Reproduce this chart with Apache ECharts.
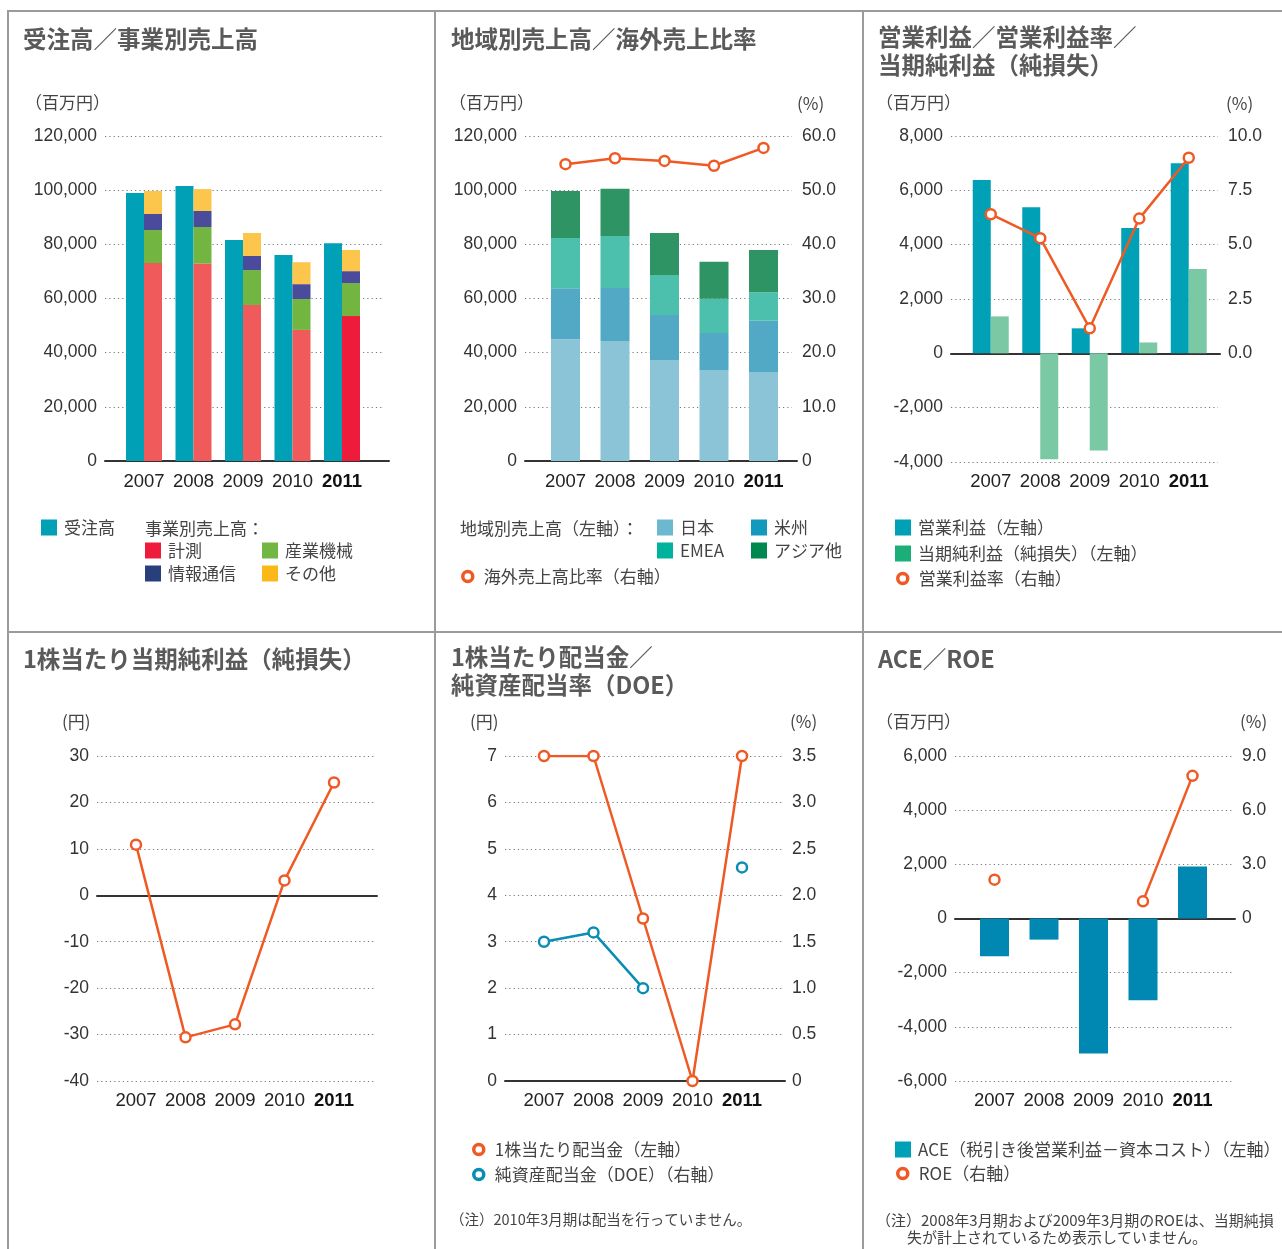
<!DOCTYPE html>
<html><head><meta charset="utf-8">
<script src="https://cdn.jsdelivr.net/npm/echarts@6/dist/echarts.min.js"></script>
<style>
html,body{margin:0;padding:0;background:#fff;}
#wrap{position:relative;width:1282px;height:1249px;overflow:hidden;}
.chart{position:absolute;left:0;top:0;width:1282px;height:1249px;}
.ln{position:absolute;background:#9b9b9b;}
</style></head><body>
<div id="wrap">
<div id="c1" class="chart"></div>
<div id="c2" class="chart"></div>
<div id="c3" class="chart"></div>
<div id="c4" class="chart"></div>
<div id="c5" class="chart"></div>
<div id="c6" class="chart"></div>
<div class="ln" style="left:7px;top:10px;width:1275px;height:2px"></div>
<div class="ln" style="left:7px;top:10px;width:2px;height:1239px"></div>
<div class="ln" style="left:434px;top:10px;width:2px;height:1239px"></div>
<div class="ln" style="left:862px;top:10px;width:2px;height:1239px"></div>
<div class="ln" style="left:7px;top:631px;width:1275px;height:2px"></div>
</div>
<script>
// ---------- data ----------
const years = ['2007', '2008', '2009', '2010', '2011'];
// 受注高／事業別売上高 (百万円)
const orders = [99000, 101500, 81600, 76100, 80400];
const salesMeasure = [73100, 72900, 57600, 48400, 53500];
const salesIndustrial = [12200, 13500, 12900, 11400, 12200];
const salesInfoComm = [5900, 5900, 5200, 5500, 4400];
const salesOther = [8500, 8100, 8500, 8100, 7800];
// 地域別売上高 (百万円) / 海外売上高比率 (%)
const regionJapan = [45000, 44300, 37300, 33600, 32900];
const regionAmericas = [18800, 19600, 16600, 13700, 18900];
const regionEMEA = [18500, 19200, 14800, 12600, 10500];
const regionAsia = [17400, 17400, 15500, 13700, 15600];
const overseasRatio = [54.8, 55.9, 55.4, 54.5, 57.8];
// 営業利益 / 当期純利益 (百万円) / 営業利益率 (%)
const operatingIncome = [6380, 5380, 920, 4610, 7000];
const netIncome = [1360, -3900, -3580, 400, 3100];
const operatingMargin = [6.4, 5.3, 1.15, 6.2, 9.0];
// 1株当たり当期純利益 (円)
const eps = [10.9, -30.6, -27.8, 3.2, 24.3];
// 1株当たり配当金 (円) / DOE (%)
const dividend = [7, 7, 3.5, 0, 7];
const doe = [1.5, 1.6, 1.0, null, 2.3];
// ACE (百万円) / ROE (%)
const ace = [-1390, -780, -4980, -3020, 1920];
const roe = [2.15, null, null, 0.95, 7.9];

// ---------- style ----------
const ORANGE = '#EF5A24';
const NUMF = "'Liberation Sans',Arial,sans-serif";
const JPF = "'Noto Sans CJK JP','Noto Sans',sans-serif";
const commas = v => Math.round(v).toLocaleString('en-US');

function title(text, left, top, size, bold, extra) {
  return Object.assign({
    text: text, left: left, top: top, padding: 0,
    textStyle: { fontSize: size, fontWeight: bold ? 'bold' : 'normal', color: bold ? '#5a5a5a' : '#444', fontFamily: JPF, lineHeight: size * 1.2 }
  }, extra || {});
}
function legRect(name, color, x, cy) {
  return { left: x, top: cy - 10, padding: 0, selectedMode: false, icon: 'rect', itemWidth: 16, itemHeight: 16,
    data: [{ name: name, itemStyle: { color: color } }],
    textStyle: { fontSize: 17, color: '#444', fontFamily: JPF, padding: [0, 0, 0, 2] } };
}
function legCircle(name, color, x, cy) {
  return { left: x, top: cy - 10, padding: 0, selectedMode: false, icon: 'circle', itemWidth: 10, itemHeight: 10,
    data: [{ name: name, itemStyle: { color: '#fff', borderColor: color, borderWidth: 3.5 } }],
    textStyle: { fontSize: 17, color: '#444', fontFamily: JPF, padding: [0, 0, 0, 6] } };
}
function lineSeries(name, data, color, yIdx) {
  return { name: name, type: 'line', xAxisIndex: 1, yAxisIndex: yIdx, data: data, z: 5,
    symbol: 'circle', symbolSize: 10, showSymbol: true, connectNulls: false,
    lineStyle: { color: color, width: 2.5 },
    itemStyle: { color: '#fff', borderColor: color, borderWidth: 2.5 } };
}
function barSeries(name, data, color, yIdx, width, stack) {
  const s = { name: name, type: 'bar', xAxisIndex: 1, yAxisIndex: yIdx, data: data, barWidth: width, barGap: '0%',
    itemStyle: { color: color } };
  if (stack) s.stack = stack;
  return s;
}

function build(id, c) {
  const h = c.y1 - c.y0;
  const grid = [
    { left: c.x0, top: c.y0, width: c.x1 - c.x0, height: h, containLabel: false, outerBoundsMode: 'none' },
    { left: c.dataLeft, top: c.y0, width: 247.5, height: h, containLabel: false, outerBoundsMode: 'none' },
    { left: c.x0, top: c.y0, width: c.axisEnd - c.x0, height: h, containLabel: false, outerBoundsMode: 'none' }
  ];
  const labelStyle = { fontSize: 17.5, color: '#333', fontFamily: NUMF };
  const R = c.R || c.L;
  const yAxis = [
    { type: 'value', gridIndex: 0, position: 'left', min: c.L.min, max: c.L.max, interval: c.L.interval,
      axisLine: { show: false }, axisTick: { show: false },
      splitLine: { show: true, lineStyle: { color: '#777', type: [1.2, 3.1], width: 1 } },
      axisLabel: Object.assign({ margin: 8, formatter: c.L.fmt }, labelStyle) },
    { type: 'value', gridIndex: 0, position: 'right', min: R.min, max: R.max, interval: R.interval, show: !!c.R,
      axisLine: { show: false }, axisTick: { show: false }, splitLine: { show: false },
      axisLabel: Object.assign({ margin: 10, formatter: R.fmt }, labelStyle) },
    { type: 'value', gridIndex: 1, min: c.L.min, max: c.L.max, interval: c.L.interval, show: false, splitLine: { show: false } },
    { type: 'value', gridIndex: 1, min: R.min, max: R.max, interval: R.interval, show: false, splitLine: { show: false } },
    { type: 'value', gridIndex: 2, min: c.L.min, max: c.L.max, interval: c.L.interval, show: false, splitLine: { show: false } }
  ];
  const xAxis = [
    { type: 'category', gridIndex: 0, data: years, show: false },
    { type: 'category', gridIndex: 1, data: years.map(y => y === '2011' ? { value: y, textStyle: { fontWeight: 'bold', color: '#111' } } : y),
      axisLine: { show: false, onZero: false }, axisTick: { show: false }, splitLine: { show: false },
      axisLabel: { interval: 0, margin: c.xMargin || 11, fontSize: 18.5, color: '#222', fontFamily: NUMF } },
    { type: 'value', gridIndex: 2, min: 0, max: 1,
      axisLine: { show: true, onZero: true, lineStyle: { color: '#333', width: 2 } },
      axisTick: { show: false }, axisLabel: { show: false }, splitLine: { show: false } }
  ];
  const chart = echarts.init(document.getElementById(id), null, { renderer: 'canvas' });
  chart.setOption({
    animation: false,
    grid: grid, xAxis: xAxis, yAxis: yAxis,
    title: c.titles, legend: c.legends || [], series: c.series
  });
}

const fmtInt = v => commas(v);
const fmt1 = v => v === 0 ? '0' : v.toFixed(1);
const fmt1Pos = v => v < 0 ? '' : v.toFixed(1);

// Panel 1
build('c1', {
  x0: 105, x1: 382, axisEnd: 389, y0: 136, y1: 461, dataLeft: 119.25,
  L: { min: 0, max: 120000, interval: 20000, fmt: fmtInt },
  series: [
    barSeries('受注高', orders, '#00A0B6', 2, 18),
    barSeries('計測', salesMeasure.map((v, i) => i === 4 ? { value: v, itemStyle: { color: '#EE1B3B' } } : v), '#F15A5A', 2, 18, 's'),
    barSeries('産業機械', salesIndustrial, '#72B540', 2, 18, 's'),
    barSeries('情報通信', salesInfoComm, '#4A4B9B', 2, 18, 's'),
    barSeries('その他', salesOther, '#FCC54C', 2, 18, 's')
  ],
  titles: [
    title('受注高／事業別売上高', 23, 25, 23.5, true),
    title('（百万円）', 25, 92, 17, false),
    title('事業別売上高：', 145, 518, 17, false)
  ],
  legends: [
    legRect('受注高', '#00A0B6', 41, 529),
    legRect('計測', '#EE1B3B', 145, 552),
    legRect('産業機械', '#72B744', 262, 552),
    legRect('情報通信', '#283F7B', 145, 575),
    legRect('その他', '#FBB819', 262, 575)
  ]
});

// Panel 2
build('c2', {
  x0: 525, x1: 792, axisEnd: 797, y0: 136, y1: 461, dataLeft: 540.75,
  L: { min: 0, max: 120000, interval: 20000, fmt: fmtInt },
  R: { min: 0, max: 60, interval: 10, fmt: fmt1 },
  series: [
    barSeries('日本', regionJapan, '#8BC4D6', 2, 29, 'r'),
    barSeries('米州', regionAmericas, '#52A9C6', 2, 29, 'r'),
    barSeries('EMEA', regionEMEA, '#4DC0AD', 2, 29, 'r'),
    barSeries('アジア他', regionAsia, '#2E9463', 2, 29, 'r'),
    lineSeries('海外売上高比率（右軸）', overseasRatio, ORANGE, 3)
  ],
  titles: [
    title('地域別売上高／海外売上比率', 451, 25, 23.5, true),
    title('（百万円）', 449, 92, 17, false),
    title('(%)', 797, 93, 17, false),
    title('地域別売上高（左軸）：', 460, 518, 17, false)
  ],
  legends: [
    legRect('日本', '#6BB8CF', 657, 529),
    legRect('米州', '#1399BB', 751, 529),
    legRect('EMEA', '#00B39D', 657, 552),
    legRect('アジア他', '#008850', 751, 552),
    legCircle('海外売上高比率（右軸）', ORANGE, 461, 578)
  ]
});

// Panel 3
build('c3', {
  x0: 951, x1: 1218, axisEnd: 1220, y0: 136, y1: 462, dataLeft: 966, xMargin: 10,
  L: { min: -4000, max: 8000, interval: 2000, fmt: fmtInt },
  R: { min: -5, max: 10, interval: 2.5, fmt: fmt1Pos },
  series: [
    barSeries('営業利益（左軸）', operatingIncome, '#00A0B6', 2, 18),
    barSeries('当期純利益（純損失）（左軸）', netIncome, '#7BC8A5', 2, 18),
    lineSeries('営業利益率（右軸）', operatingMargin, ORANGE, 3)
  ],
  titles: [
    title('営業利益／営業利益率／\n当期純利益（純損失）', 878, 23, 23.5, true, {}),
    title('（百万円）', 876, 92, 17, false),
    title('(%)', 1226, 93, 17, false)
  ],
  legends: [
    legRect('営業利益（左軸）', '#00A0B6', 895, 529),
    legRect('当期純利益（純損失）（左軸）', '#1BAE78', 895, 555),
    legCircle('営業利益率（右軸）', ORANGE, 896, 580)
  ]
});

// Panel 4
build('c4', {
  x0: 97, x1: 375, axisEnd: 377, y0: 756, y1: 1081, dataLeft: 111.25, xMargin: 10,
  L: { min: -40, max: 30, interval: 10, fmt: v => String(v) },
  series: [
    lineSeries('1株当たり当期純利益', eps, ORANGE, 2)
  ],
  titles: [
    title('1株当たり当期純利益（純損失）', 23, 645, 23.5, true),
    title('(円)', 62, 711, 17, false)
  ]
});

// Panel 5
build('c5', {
  x0: 505, x1: 782, axisEnd: 785, y0: 756, y1: 1081, dataLeft: 519.25, xMargin: 10,
  L: { min: 0, max: 7, interval: 1, fmt: v => String(v) },
  R: { min: 0, max: 3.5, interval: 0.5, fmt: fmt1 },
  series: [
    lineSeries('1株当たり配当金（左軸）', dividend, ORANGE, 2),
    lineSeries('純資産配当金（DOE）（右軸）', doe, '#0A8DB5', 3)
  ],
  titles: [
    title('1株当たり配当金／\n純資産配当率（DOE）', 451, 643, 23.5, true),
    title('(円)', 470, 711, 17, false),
    title('(%)', 790, 711, 17, false),
    title('（注）2010年3月期は配当を行っていません。', 450, 1211, 14.5, false)
  ],
  legends: [
    legCircle('1株当たり配当金（左軸）', ORANGE, 472, 1151),
    legCircle('純資産配当金（DOE）（右軸）', '#0A8DB5', 472, 1176)
  ]
});

// Panel 6
build('c6', {
  x0: 955, x1: 1232, axisEnd: 1235, y0: 756, y1: 1081, dataLeft: 969.75, xMargin: 10,
  L: { min: -6000, max: 6000, interval: 2000, fmt: fmtInt },
  R: { min: -9, max: 9, interval: 3, fmt: v => v < 0 ? '' : (v === 0 ? '0' : v.toFixed(1)) },
  series: [
    barSeries('ACE（税引き後営業利益－資本コスト）（左軸）', ace, '#0088B2', 2, 29),
    lineSeries('ROE（右軸）', roe, ORANGE, 3)
  ],
  titles: [
    title('ACE／ROE', 878, 645, 23.5, true),
    title('（百万円）', 876, 711, 17, false),
    title('(%)', 1240, 711, 17, false),
    title('（注）2008年3月期および2009年3月期のROEは、当期純損', 876, 1211, 15, false),
    title('失が計上されているため表示していません。', 907, 1228, 15, false)
  ],
  legends: [
    legRect('ACE（税引き後営業利益－資本コスト）（左軸）', '#00A0B6', 895, 1151),
    legCircle('ROE（右軸）', ORANGE, 896, 1175)
  ]
});
</script>
</body></html>
